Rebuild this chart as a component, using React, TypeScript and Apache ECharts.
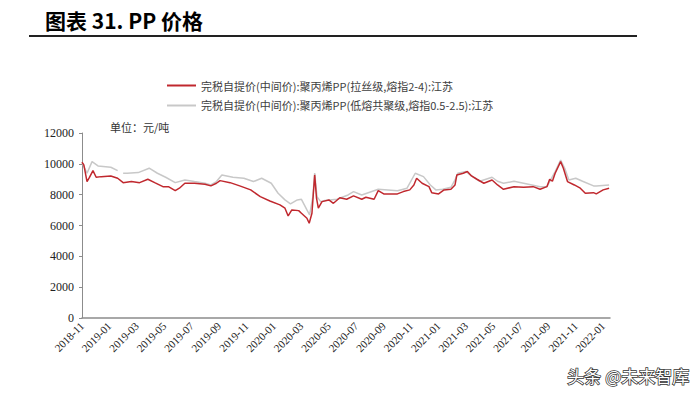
import React, { useEffect, useRef } from "react";
import * as echarts from "echarts";

const titleText = "图表 31. PP 价格";
const unitText = "单位：元/吨";
const seriesNames = [
  "完税自提价(中间价):聚丙烯PP(拉丝级,熔指2-4):江苏",
  "完税自提价(中间价):聚丙烯PP(低熔共聚级,熔指0.5-2.5):江苏",
];
const yTicks = [0, 2000, 4000, 6000, 8000, 10000, 12000];
const xTickLabels = [
  "2018-11", "2019-01", "2019-03", "2019-05", "2019-07", "2019-09", "2019-11",
  "2020-01", "2020-03", "2020-05", "2020-07", "2020-09", "2020-11",
  "2021-01", "2021-03", "2021-05", "2021-07", "2021-09", "2021-11", "2022-01",
];

const redDates = [
  "2018-11-01", "2018-11-05", "2018-11-12", "2018-11-17", "2018-11-25", "2018-12-02", "2018-12-13",
  "2019-01-04", "2019-01-19", "2019-02-01", "2019-02-19", "2019-03-07", "2019-03-25", "2019-04-10",
  "2019-04-28", "2019-05-10", "2019-05-25", "2019-06-04", "2019-06-16", "2019-07-07", "2019-07-30",
  "2019-08-13", "2019-08-25", "2019-09-03", "2019-09-25", "2019-10-16", "2019-11-10", "2019-12-01",
  "2019-12-22", "2020-01-14", "2020-01-25", "2020-02-02", "2020-02-10", "2020-02-25", "2020-03-01",
  "2020-03-13", "2020-03-18", "2020-03-24", "2020-03-30", "2020-04-04", "2020-04-08", "2020-04-16",
  "2020-05-01", "2020-05-11", "2020-05-25", "2020-06-10", "2020-06-25", "2020-07-13", "2020-07-22",
  "2020-08-10", "2020-08-19", "2020-09-01", "2020-10-01", "2020-10-14", "2020-10-28", "2020-11-07",
  "2020-11-13", "2020-11-25", "2020-12-10", "2020-12-16", "2021-01-01", "2021-01-13", "2021-01-28",
  "2021-02-07", "2021-02-11", "2021-02-25", "2021-03-04", "2021-03-13", "2021-03-25", "2021-04-10",
  "2021-04-28", "2021-05-10", "2021-05-23", "2021-06-16", "2021-07-07", "2021-07-28", "2021-08-13",
  "2021-08-28", "2021-09-04", "2021-09-10", "2021-09-16", "2021-09-28", "2021-10-04", "2021-10-13",
  "2021-10-28", "2021-11-11", "2021-11-22", "2021-12-10", "2021-12-16", "2022-01-01", "2022-01-14",
];
const redValues = [
  10100, 9930, 8850, 9100, 9560, 9130, 9170,
  9215, 9065, 8780, 8850, 8780, 9000, 8780,
  8520, 8520, 8260, 8420, 8740, 8740, 8680,
  8570, 8740, 8910, 8780, 8570, 8310, 7870,
  7590, 7340, 7120, 6620, 7010, 6965, 6795,
  6470, 6145, 6795, 9280, 7770, 7120, 7550,
  7660, 7440, 7800, 7700, 7920, 7700, 7830,
  7700, 8260, 8050, 8050, 8200, 8310, 8630,
  9065, 8740, 8520, 8130, 8050, 8310, 8350,
  8630, 9280, 9390, 9500, 9215, 9000, 8740,
  8955, 8630, 8350, 8520, 8480, 8520, 8350,
  8520, 9000, 8870, 9390, 10145, 9715, 8850,
  8630, 8420, 8090, 8130, 8050, 8310, 8420,
];

const greyDates = [
  "2018-11-01", "2018-11-12", "2018-11-23", "2018-12-06", "2019-01-04", "2019-01-19", "2019-01-25",
  "2019-02-01", "2019-02-10", "2019-03-04", "2019-03-28", "2019-04-16", "2019-05-04", "2019-05-25",
  "2019-06-16", "2019-07-07", "2019-07-30", "2019-08-13", "2019-08-25", "2019-09-07", "2019-10-01",
  "2019-10-25", "2019-11-16", "2019-12-04", "2019-12-25", "2020-01-10", "2020-01-25", "2020-02-07",
  "2020-02-22", "2020-03-01", "2020-03-13", "2020-03-19", "2020-03-26", "2020-03-30", "2020-04-05",
  "2020-04-13", "2020-04-22", "2020-05-19", "2020-06-13", "2020-06-25", "2020-07-13", "2020-08-19",
  "2020-10-01", "2020-10-22", "2020-11-10", "2020-11-28", "2020-12-13", "2020-12-25", "2021-01-10",
  "2021-01-28", "2021-02-07", "2021-02-13", "2021-03-01", "2021-03-16", "2021-04-01", "2021-04-28",
  "2021-05-10", "2021-05-23", "2021-06-16", "2021-07-07", "2021-08-13", "2021-08-28", "2021-09-16",
  "2021-09-28", "2021-10-07", "2021-10-16", "2021-11-01", "2021-11-16", "2021-12-10", "2021-12-16",
  "2022-01-14",
];
const greyValues: (number | null)[] = [
  10100, 9390, 10145, 9865, 9780, 9560, null,
  9390, 9390, 9430, 9715, 9390, 9130, 8780,
  8955, 8850, 8740, 8630, 8850, 9280, 9130,
  9065, 8850, 9065, 8740, 8090, 7660, 7400,
  7660, 7700, 7010, 6685, 7870, 9400, 7870,
  7550, 7615, 7700, 7980, 8200, 7980, 8350,
  8260, 8420, 9390, 9170, 8630, 8310, 8350,
  8480, 8955, 9390, 9500, 9150, 8870, 9130,
  8870, 8740, 8870, 8740, 8520, 8520, 9500,
  10250, 9715, 8955, 9065, 8870, 8570, 8570,
  8630,
];

function monthIndex(d: string): number {
  const [y, m, day] = d.split("-").map(Number);
  return (y - 2018) * 12 + (m - 11) + (day - 1) / 30;
}
function labelFor(v: number): string {
  const i = Math.round(v / 2);
  return xTickLabels[i] ?? "";
}

export default function App() {
  const ref = useRef<HTMLDivElement>(null);
  useEffect(() => {
    if (!ref.current) return;
    const chart = echarts.init(ref.current, undefined, { renderer: "svg" });
    const red = redDates.map((d, i) => [monthIndex(d), redValues[i]]);
    const grey = greyDates.map((d, i) => [monthIndex(d), greyValues[i]]);
    const xMax = 38.5;
    chart.setOption({
      animation: false,
      backgroundColor: "#ffffff",
      grid: { left: 82, right: 90, top: 133, bottom: 79, containLabel: false },
      legend: {
        orient: "vertical",
        left: 167,
        top: 80,
        padding: 0,
        itemWidth: 29,
        itemHeight: 2,
        itemGap: 9,
        icon: "rect",
        textStyle: { fontSize: 11, color: "#404040", fontFamily: "Noto Sans CJK SC" },
        data: seriesNames,
      },
      graphic: [
        {
          type: "text",
          x: 45,
          y: 20,
          style: {
            text: titleText,
            font: "bold 21px 'Noto Sans CJK SC'",
            fill: "#000000",
            verticalAlign: "middle",
            align: "left",
          },
        },
        {
          type: "line",
          shape: { x1: 29, y1: 36, x2: 637, y2: 36 },
          style: { stroke: "#222222", lineWidth: 2 },
        },
        {
          type: "text",
          left: 110,
          top: 121,
          style: { text: unitText, font: "11px 'Noto Sans CJK SC'", fill: "#333333" },
        },
        {
          type: "text",
          right: 10,
          top: 366,
          style: {
            text: "头条 @未来智库",
            font: "17px 'Noto Sans CJK SC'",
            fill: "#ffffff",
            stroke: "#333333",
            lineWidth: 1.5,
          },
        },
      ],
      xAxis: {
        type: "value",
        min: 0,
        max: xMax,
        interval: 2,
        axisLine: { show: true, lineStyle: { color: "#8c8c8c", width: 1.5 } },
        axisTick: { show: false },
        splitLine: { show: false },
        axisLabel: {
          rotate: 45,
          fontFamily: "Liberation Serif",
          fontSize: 11,
          color: "#222222",
          margin: 6,
          showMaxLabel: false,
          formatter: (v: number) => (Number.isInteger(v / 2) ? labelFor(v) : ""),
        },
      },
      yAxis: {
        type: "value",
        min: 0,
        max: 12000,
        interval: 2000,
        axisLine: { show: true, lineStyle: { color: "#8c8c8c", width: 1 } },
        axisTick: { show: true, inside: false, length: 3, lineStyle: { color: "#8c8c8c" } },
        splitLine: { show: false },
        axisLabel: {
          fontFamily: "Liberation Serif",
          fontSize: 12,
          color: "#222222",
          margin: 8,
          formatter: (v: number) => (yTicks.includes(v) ? String(v) : ""),
        },
      },
      series: [
        {
          name: seriesNames[1],
          type: "line",
          data: grey,
          showSymbol: false,
          connectNulls: false,
          lineStyle: { color: "#c8c8c8", width: 1.5 },
          itemStyle: { color: "#c8c8c8" },
          z: 2,
        },
        {
          name: seriesNames[0],
          type: "line",
          data: red,
          showSymbol: false,
          lineStyle: { color: "#c0282e", width: 1.5 },
          itemStyle: { color: "#c0282e" },
          z: 3,
        },
      ],
    });
    return () => chart.dispose();
  }, []);
  return <div ref={ref} style={{ width: 700, height: 397, margin: "-8px 0 0 -8px" }} />;
}
